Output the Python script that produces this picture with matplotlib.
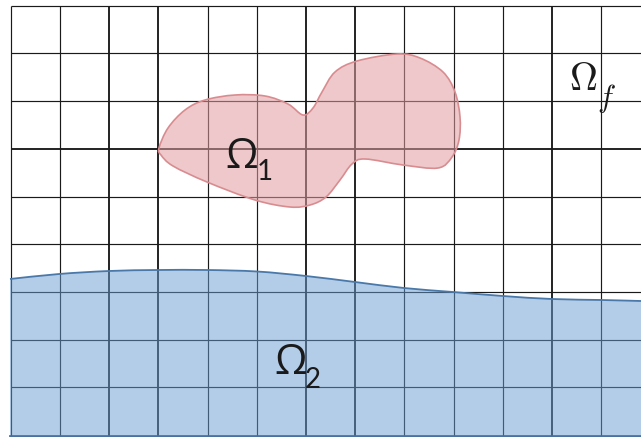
import numpy as np
import matplotlib
matplotlib.use('Agg')
import matplotlib.pyplot as plt
from matplotlib.path import Path
from matplotlib.patches import PathPatch

# grid of the mesh (pixel coordinates of the picture)
x_lines = [10.5, 59.5, 109, 158, 207.5, 256.5, 306, 355, 404, 453.5, 502.5, 552, 601]
y_lines = [5.5, 53, 101, 149, 197, 244, 292, 340, 387]
x_thick = [109, 158, 306, 355, 552]
y_thick = [149]

# outline of the solid Omega_1 (closed)
blob_x = [159, 168, 185, 205, 235, 265, 288, 303, 313, 322, 335, 357, 397, 420, 443,
          455, 460, 459, 452, 438, 403, 365, 352, 340, 326, 310, 290, 255, 207, 173, 161]
blob_y = [148, 128, 110, 100, 95, 96, 104, 115, 108, 92, 72, 61, 54, 58, 72,
          92, 117, 140, 157, 168, 165, 159, 164, 180, 197, 205, 207, 200, 182, 166, 155]

# interface of Omega_2
wave_x = [10, 59, 109, 158, 207, 257, 306, 355, 404, 453, 503, 552, 602, 641]
wave_y = [279, 274, 271, 270, 270, 271.5, 276, 282, 288, 292, 296, 299, 300, 301]
y_bottom = 435.5

W, H = 641, 437


def smooth_path(px, py, closed):
    p = np.column_stack([px, py]).astype(float)
    n = len(p)
    verts = [p[0]]
    codes = [Path.MOVETO]
    nseg = n if closed else n - 1
    for i in range(nseg):
        p0 = p[(i - 1) % n] if (closed or i > 0) else p[0]
        p1 = p[i % n]
        p2 = p[(i + 1) % n]
        p3 = p[(i + 2) % n] if (closed or i + 2 < n) else p[-1]
        verts += [p1 + (p2 - p0) / 6, p2 - (p3 - p1) / 6, p2]
        codes += [Path.CURVE4] * 3
    return np.array(verts), codes


fig = plt.figure(figsize=(W / 100, H / 100), dpi=100)
ax = fig.add_axes([0, 0, 1, 1])
ax.set_xlim(0, W)
ax.set_ylim(H, 0)
ax.axis('off')

# mesh
for x in x_lines:
    ax.plot([x, x], [y_lines[0], H], color='#1a1a1a',
            lw=1.35 if x in x_thick else 0.85, solid_capstyle='butt', zorder=1)
for y in y_lines:
    ax.plot([x_lines[0], W], [y, y], color='#1a1a1a',
            lw=1.35 if y in y_thick else 0.85, solid_capstyle='butt', zorder=1)

# Omega_2 region
v, c = smooth_path(wave_x, wave_y, closed=False)
fill_v = np.vstack([v, [[W, y_bottom], [wave_x[0], y_bottom], v[0]]])
fill_c = c + [Path.LINETO, Path.LINETO, Path.CLOSEPOLY]
ax.add_patch(PathPatch(Path(fill_v, fill_c), facecolor=(105/255, 155/255, 211/255),
                       alpha=0.5, edgecolor='none', zorder=2))
ax.add_patch(PathPatch(Path(v, c), facecolor='none', edgecolor='#4a78a8', lw=1.3, zorder=3))
ax.plot([wave_x[0], W], [y_bottom, y_bottom], color='#4a70a0', lw=2.0, zorder=3)

# Omega_1 solid
v, c = smooth_path(blob_x, blob_y, closed=True)
ax.add_patch(PathPatch(Path(v, c), facecolor=(224/255, 155/255, 159/255),
                       alpha=0.55, edgecolor='none', zorder=2))
ax.add_patch(PathPatch(Path(v, c), facecolor='none', edgecolor='#d98c90', lw=1.2, zorder=3))

# labels
sans = ['Open Sans', 'Noto Sans', 'DejaVu Sans']
ax.text(225, 168, '\u03a9', fontsize=30, family=sans, color='#1a1a1a',
        ha='left', va='baseline', zorder=4)
ax.text(257, 180, '1', fontsize=20, family=['Lato', 'Noto Sans'], color='#1a1a1a',
        ha='left', va='baseline', zorder=4)
ax.text(274, 374, '\u03a9', fontsize=30, family=sans, color='#1a1a1a',
        ha='left', va='baseline', zorder=4)
ax.text(305, 388, '2', fontsize=20, family=['Lato', 'Noto Sans'], color='#1a1a1a',
        ha='left', va='baseline', zorder=4)
plt.rcParams['mathtext.fontset'] = 'cm'
ax.text(569, 90, r'$\Omega$', fontsize=28, color='#1a1a1a',
        ha='left', va='baseline', zorder=4)
ax.text(597, 107, r'$f$', fontsize=22, color='#1a1a1a',
        ha='left', va='baseline', zorder=4)

fig.savefig('out.png', dpi=100)
